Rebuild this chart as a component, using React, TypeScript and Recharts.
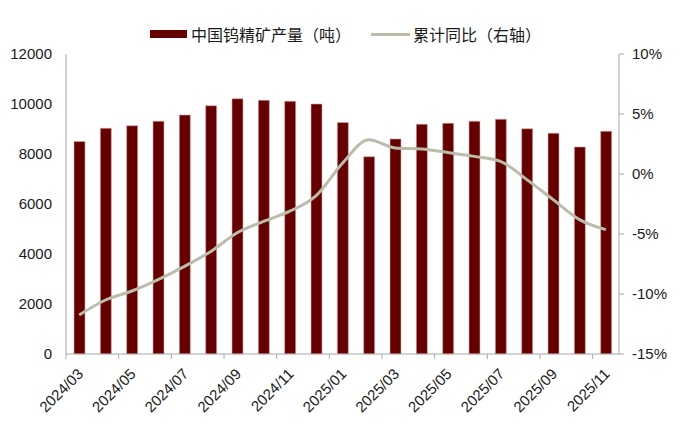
import React from 'react';
import { ComposedChart, Bar, Line, XAxis, YAxis, Legend } from 'recharts';

const months = ['2024/03','2024/04','2024/05','2024/06','2024/07','2024/08','2024/09','2024/10','2024/11','2024/12','2025/01','2025/02','2025/03','2025/04','2025/05','2025/06','2025/07','2025/08','2025/09','2025/10','2025/11'];
const output = [8500,9030,9130,9310,9560,9930,10210,10150,10110,10000,9260,7890,8600,9190,9230,9310,9390,9010,8830,8280,8910];
const yoy = [-11.75,-10.5,-9.75,-8.8,-7.7,-6.45,-4.9,-3.95,-3.1,-1.8,0.9,2.86,2.17,2.08,1.8,1.47,1.05,-0.47,-2.14,-3.8,-4.64];
const leftTicks = [0,2000,4000,6000,8000,10000,12000];
const rightTicks = [-15,-10,-5,0,5,10];

const data = months.map((m, i) => ({ month: m, output: output[i], yoy: yoy[i] }));

const FONT = "Arial, 'Liberation Sans', 'Noto Sans CJK SC', sans-serif";
const BAR = '#640000';
const LINE = '#BCBCAA';
const AXIS = '#A6A6A6';

const XTick = (props: any) => {
  const { x, y, payload, width } = props;
  const bw = (width || 553) / months.length;
  return (
    <g>
      <line x1={x - bw / 2} x2={x - bw / 2} y1={y} y2={y + 5} stroke={AXIS} strokeWidth={1} />
      <text x={0} y={0} transform={`translate(${x + 1},${y + 17}) rotate(-45)`} textAnchor="end" dominantBaseline="central" fontSize={15} fill="#1a1a1a" fontFamily={FONT}>
        {payload.value}
      </text>
    </g>
  );
};

const LegendContent = () => (
  <div style={{ display: 'flex', justifyContent: 'center', alignItems: 'center', fontFamily: FONT, fontSize: 16, color: '#1a1a1a', height: 20 }}>
    <span style={{ display: 'inline-block', width: 37, height: 8, background: BAR, marginRight: 4 }} />
    <span style={{ marginRight: 20 }}>中国钨精矿产量（吨）</span>
    <span style={{ display: 'inline-block', width: 39, height: 3, background: LINE, marginRight: 3 }} />
    <span>累计同比（右轴）</span>
  </div>
);

export default function App() {
  return (
    <div style={{ position: 'absolute', left: 0, top: 0, width: 691, height: 429, background: '#fff' }}>
      <ComposedChart width={691} height={429} data={data} margin={{ top: 34, right: 0, bottom: 0, left: 0 }} barCategoryGap="59%">
        <Legend verticalAlign="top" align="center" content={<LegendContent />} wrapperStyle={{ top: 24, left: 0, width: 691 }} />
        <XAxis dataKey="month" xAxisId={0} interval={1} tickLine={false} tickSize={0} tickMargin={0} height={75} axisLine={{ stroke: AXIS }} tick={<XTick />} />
        <YAxis yAxisId="left" orientation="left" domain={[0, 12000]} ticks={leftTicks} width={66} tickLine={false} tickSize={6} tickMargin={8} axisLine={{ stroke: AXIS }} tick={{ fontSize: 15, fill: '#1a1a1a', fontFamily: FONT }} />
        <YAxis yAxisId="right" orientation="right" domain={[-15, 10]} ticks={rightTicks} width={72} tickLine={{ stroke: AXIS }} tickSize={5} tickMargin={8} axisLine={{ stroke: AXIS }} tickFormatter={(v: number) => `${v}%`} tick={{ fontSize: 15, fill: '#1a1a1a', fontFamily: FONT }} />
        <Bar yAxisId="left" dataKey="output" fill={BAR} stroke="#d8a8a8" strokeWidth={0.6} barSize={11} isAnimationActive={false} />
        <Line yAxisId="right" dataKey="yoy" type="monotone" stroke={LINE} strokeWidth={3} dot={false} isAnimationActive={false} />
      </ComposedChart>
    </div>
  );
}
